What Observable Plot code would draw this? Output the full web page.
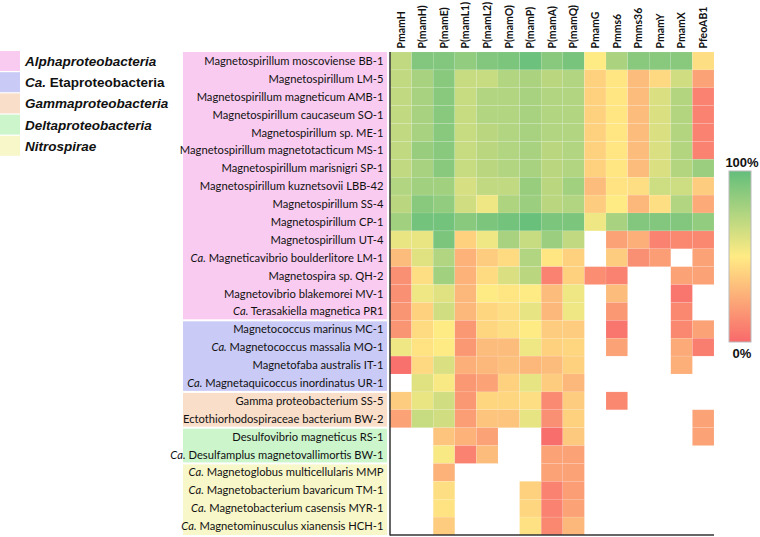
<!DOCTYPE html>
<html><head><meta charset="utf-8">
<script src="https://cdn.jsdelivr.net/npm/d3@7"></script>
<script src="https://cdn.jsdelivr.net/npm/@observablehq/plot@0.6"></script>
<style>body{margin:0;background:#fff;overflow:hidden;}</style>
</head><body><div id="chart"></div>
<script>
// ---- data ----
const genes = ["PmamH","P(mamH)","P(mamE)","P(mamL1)","P(mamL2)","P(mamO)","P(mamP)","P(mamA)","P(mamQ)","PmamG","Pmms6","Pmms36","PmamY","PmamX","PfeoAB1"];

const groupNames = ["Alphaproteobacteria","Ca. Etaproteobacteria","Gammaproteobacteria","Deltaproteobacteria","Nitrospirae"];

const alphaTaxa = ["Magnetospirillum moscoviense BB-1","Magnetospirillum LM-5","Magnetospirillum magneticum AMB-1","Magnetospirillum caucaseum SO-1","Magnetospirillum sp. ME-1","Magnetospirillum magnetotacticum MS-1","Magnetospirillum marisnigri SP-1","Magnetospirillum kuznetsovii LBB-42","Magnetospirillum SS-4","Magnetospirillum CP-1","Magnetospirillum UT-4","Ca. Magneticavibrio boulderlitore LM-1","Magnetospira sp. QH-2","Magnetovibrio blakemorei MV-1","Ca. Terasakiella magnetica PR1"];
const etaTaxa = ["Magnetococcus marinus MC-1","Ca. Magnetococcus massalia MO-1","Magnetofaba australis IT-1","Ca. Magnetaquicoccus inordinatus UR-1"];
const gammaTaxa = ["Gamma proteobacterium SS-5","Ectothiorhodospiraceae bacterium BW-2"];
const deltaTaxa = ["Desulfovibrio magneticus RS-1","Ca. Desulfamplus magnetovallimortis BW-1"];
const nitroTaxa = ["Ca. Magnetoglobus multicellularis MMP","Ca. Magnetobacterium bavaricum TM-1","Ca. Magnetobacterium casensis MYR-1","Ca. Magnetominusculus xianensis HCH-1"];

// relative promoter strength (%), null = absent
const alphaValues = [
  [70,90,90,85,90,92,97,88,93,50,77,88,88,88,45],
  [70,78,88,68,68,75,77,72,75,40,48,32,43,65,22],
  [70,78,88,68,75,75,78,75,75,40,48,32,62,74,10],
  [70,78,88,68,75,75,78,75,75,40,48,32,62,74,10],
  [70,78,88,68,72,75,78,75,75,40,48,32,62,74,10],
  [70,83,88,68,72,75,78,72,75,40,48,32,62,74,10],
  [70,78,88,68,72,75,78,72,75,40,48,32,62,74,82],
  [75,80,80,63,70,70,83,72,80,32,47,45,66,66,38],
  [72,88,85,65,55,76,82,72,75,38,50,30,45,75,25],
  [80,95,95,88,92,95,98,92,92,55,78,90,90,90,85],
  [57,57,92,40,55,78,68,82,70,null,22,27,10,12,12],
  [32,60,75,28,38,44,75,48,40,null,38,15,20,null,22],
  [15,45,80,28,44,62,72,10,40,14,10,null,null,22,22],
  [15,55,60,30,50,48,50,32,55,null,32,null,null,5,null],
  [17,40,65,30,42,45,58,30,55,null,18,null,null,12,null]
];
const etaValues = [
  [17,44,50,18,42,45,50,38,38,null,5,null,null,12,22],
  [55,47,50,18,32,32,55,40,42,null,22,null,null,25,8],
  [3,43,62,27,30,33,30,32,40,null,null,null,null,27,null],
  [null,60,52,18,22,40,58,38,30,null,null,null,null,null,null]
];
const gammaValues = [
  [38,57,65,18,42,42,45,13,38,null,12,null,null,null,null],
  [22,68,65,20,35,35,58,15,40,null,null,null,null,null,22]
];
const deltaValues = [
  [null,null,35,28,22,null,null,2,37,null,null,null,null,null,22],
  [null,null,52,10,32,null,null,22,22,null,null,null,null,null,null]
];
const nitroValues = [
  [null,null,28,null,null,null,null,22,22,null,null,null,null,null,null],
  [null,null,45,null,null,null,40,10,20,null,null,null,null,null,null],
  [null,null,47,null,null,null,42,10,22,null,null,null,null,null,null],
  [null,null,38,null,null,null,46,12,30,null,null,null,null,null,null]
];

// ---- styles ----
const groupColors = ["#f9cbf0","#cacaf6","#f9dec9","#ccf5cc","#f8f7c9"];

const groupTaxa = [alphaTaxa, etaTaxa, gammaTaxa, deltaTaxa, nitroTaxa];
const groupValues = [alphaValues, etaValues, gammaValues, deltaValues, nitroValues];
const taxa = groupTaxa.flat();
const table = [];
groupTaxa.forEach((list, gi) => list.forEach((t, ri) => groupValues[gi][ri].forEach((v, ci) => {
  if (v != null) table.push({taxon: t, gene: genes[ci], value: v});
})));

const chart = Plot.plot({
  width: 760, height: 537,
  marginLeft: 390, marginRight: 46, marginTop: 52, marginBottom: 2,
  style: {fontFamily: "Lato, sans-serif", background: "#fff", color: "#111"},
  x: {domain: genes, padding: 0, round: false, axis: "top", tickSize: 0, tickPadding: 4, tickRotate: -90, label: null},
  y: {domain: taxa, padding: 0, round: false, tickSize: 0, tickPadding: 7, label: null},
  color: {type: "linear", domain: [0, 50, 100], range: ["#F8696B", "#FFEB84", "#63BE7B"], interpolate: "rgb"},
  marks: [
    Plot.cell(table, {x: "gene", y: "taxon", fill: "value", stroke: "#fff", strokeOpacity: 0.2, strokeWidth: 0.5})
  ]
});
document.getElementById("chart").appendChild(chart);

const svg = d3.select(chart);
const X = chart.scale("x"), Y = chart.scale("y"), C = chart.scale("color");
const bw = Y.bandwidth;

// axis label styling
svg.selectAll('[aria-label="x-axis tick label"] text').attr("font-size", 10.5).attr("font-weight", "bold");
svg.selectAll('[aria-label="y-axis tick label"] text').attr("font-size", 11.2).each(function() {
  const s = this.textContent;
  if (s.startsWith("Ca. ")) {
    const t = d3.select(this);
    t.text(null);
    t.append("tspan").attr("font-style", "italic").text("Ca.");
    t.append("tspan").text("\u00a0" + s.slice(4));
  }
});

// group bands behind labels
const bg = svg.insert("g", "g");
groupTaxa.forEach((list, i) => {
  let y0 = Y.apply(list[0]), y1 = Y.apply(list[list.length - 1]) + bw;
  if (i > 0) y0 += 1;
  if (i < groupTaxa.length - 1) y1 -= 1;
  bg.append("rect").attr("x", 183).attr("width", 204).attr("y", y0).attr("height", y1 - y0).attr("fill", groupColors[i]);
});

// axis lines (left and bottom)
const xr = X.range, yr = Y.range;
svg.append("line").attr("x1", xr[0]).attr("x2", xr[0]).attr("y1", yr[0]).attr("y2", yr[1] + 0.5).attr("stroke", "#333").attr("stroke-width", 1.5);
svg.append("line").attr("x1", xr[0]).attr("x2", xr[1]).attr("y1", yr[1]).attr("y2", yr[1]).attr("stroke", "#333").attr("stroke-width", 1.5);

// group legend (top-left)
const lg = svg.append("g").attr("font-family", "'Liberation Sans', Arial, sans-serif").attr("font-size", 13.5).attr("font-weight", "bold").attr("fill", "#111").attr("text-anchor", "start");
groupNames.forEach((name, i) => {
  const y = 51 + i * 21.2;
  lg.append("rect").attr("x", 0).attr("y", y).attr("width", 20).attr("height", 20).attr("fill", groupColors[i]);
  const t = lg.append("text").attr("x", 25).attr("y", y + 15);
  if (name.startsWith("Ca. ")) {
    t.append("tspan").attr("font-style", "italic").text("Ca.");
    t.append("tspan").text("\u00a0" + name.slice(4));
  } else {
    t.attr("font-style", "italic").text(name);
  }
});

// color legend (right)
const defs = svg.append("defs");
const grad = defs.append("linearGradient").attr("id", "cgrad").attr("x1", 0).attr("y1", 1).attr("x2", 0).attr("y2", 0);
[0, 25, 50, 75, 100].forEach(v => grad.append("stop").attr("offset", v + "%").attr("stop-color", C.apply(v)));
svg.append("rect").attr("x", 729).attr("y", 171).attr("width", 22).attr("height", 171).attr("fill", "url(#cgrad)").attr("stroke", "#bbb").attr("stroke-width", 1);
const cl = svg.append("g").attr("font-family", "'Liberation Sans', Arial, sans-serif").attr("font-size", 13).attr("font-weight", "bold").attr("fill", "#111").attr("text-anchor", "middle");
cl.append("text").attr("x", 742).attr("y", 167).text("100%");
cl.append("text").attr("x", 742).attr("y", 358).text("0%");
</script>
</body></html>
